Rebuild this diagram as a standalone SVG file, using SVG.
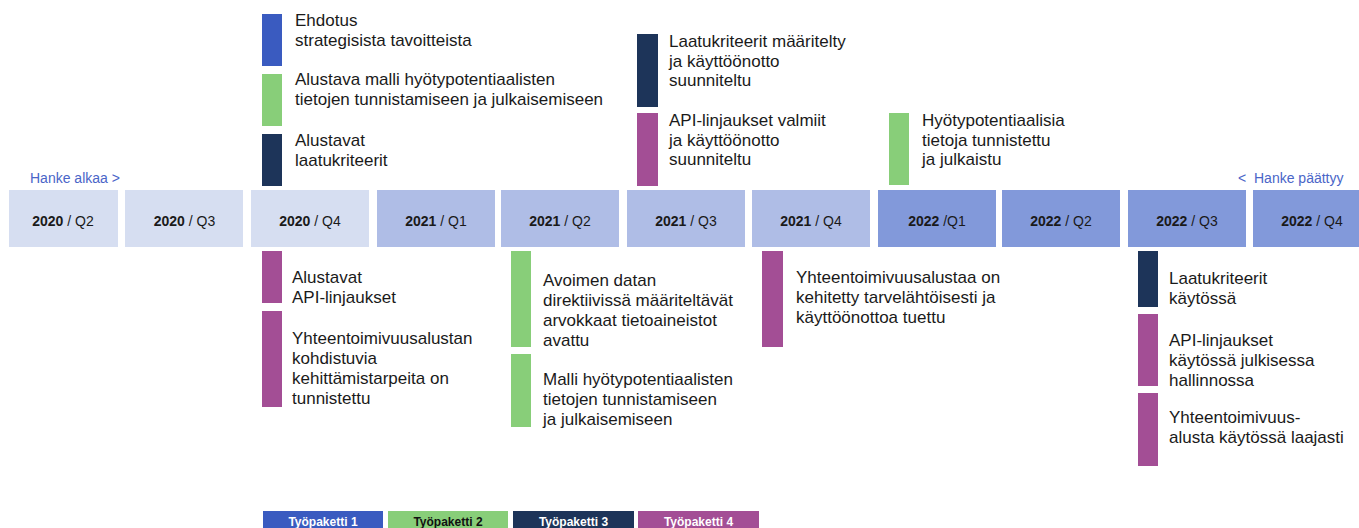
<svg xmlns="http://www.w3.org/2000/svg" width="1359" height="528" viewBox="0 0 1359 528">
<style>
text{font-family:"Liberation Sans",Arial,sans-serif;}
.t{font-size:17px;fill:#1a1a1a;}
.q{font-size:14px;fill:#1a1a1a;text-anchor:middle;}
.q tspan.b{font-weight:bold;}
.y20{fill:#D6DEF1;}
.y21{fill:#AFBDE6;}
.y22{fill:#8299DA;}
.wp1{fill:#3A5BC0;}
.wp2{fill:#88CE79;}
.wp3{fill:#1D3459;}
.wp4{fill:#A34E95;}
.h{font-size:14px;fill:#4A65C8;}
.lg{font-size:12px;font-weight:bold;text-anchor:middle;fill:#ffffff;}
</style>
<rect width="1359" height="528" fill="#ffffff"/>

<g id="timeline">
  <g id="q2020-2"><rect class="y20" x="9" y="190" width="109" height="57"/><text class="q" x="63" y="225.5"><tspan class="b">2020</tspan> / Q2</text></g>
  <g id="q2020-3"><rect class="y20" x="125" y="190" width="118" height="57"/><text class="q" x="184.5" y="225.5"><tspan class="b">2020</tspan> / Q3</text></g>
  <g id="q2020-4"><rect class="y20" x="251" y="190" width="118" height="57"/><text class="q" x="310" y="225.5"><tspan class="b">2020</tspan> / Q4</text></g>
  <g id="q2021-1"><rect class="y21" x="377" y="190" width="118" height="57"/><text class="q" x="436" y="225.5"><tspan class="b">2021</tspan> / Q1</text></g>
  <g id="q2021-2"><rect class="y21" x="501" y="190" width="118" height="57"/><text class="q" x="560" y="225.5"><tspan class="b">2021</tspan> / Q2</text></g>
  <g id="q2021-3"><rect class="y21" x="627" y="190" width="118" height="57"/><text class="q" x="686" y="225.5"><tspan class="b">2021</tspan> / Q3</text></g>
  <g id="q2021-4"><rect class="y21" x="752" y="190" width="118" height="57"/><text class="q" x="811" y="225.5"><tspan class="b">2021</tspan> / Q4</text></g>
  <g id="q2022-1"><rect class="y22" x="878" y="190" width="118" height="57"/><text class="q" x="937" y="225.5"><tspan class="b">2022</tspan> /Q1</text></g>
  <g id="q2022-2"><rect class="y22" x="1002" y="190" width="118" height="57"/><text class="q" x="1061" y="225.5"><tspan class="b">2022</tspan> / Q2</text></g>
  <g id="q2022-3"><rect class="y22" x="1128" y="190" width="118" height="57"/><text class="q" x="1187" y="225.5"><tspan class="b">2022</tspan> / Q3</text></g>
  <g id="q2022-4"><rect class="y22" x="1253" y="190" width="118" height="57"/><text class="q" x="1312" y="225.5"><tspan class="b">2022</tspan> / Q4</text></g>
</g>

<g id="start-label"><text class="h" x="30" y="183">Hanke alkaa &gt;</text></g>
<g id="end-label"><text class="h" x="1238" y="183">&lt;</text><text class="h" x="1254" y="183">Hanke päättyy</text></g>

<g id="m-ehdotus"><rect class="wp1" x="262" y="14" width="20" height="52"/><text class="t" x="295" y="26">Ehdotus</text><text class="t" x="295" y="46">strategisista tavoitteista</text></g>
<g id="m-alustava-malli"><rect class="wp2" x="262" y="74" width="20" height="52"/><text class="t" x="295" y="85">Alustava malli hyötypotentiaalisten</text><text class="t" x="295" y="105">tietojen tunnistamiseen ja julkaisemiseen</text></g>
<g id="m-alustavat-laatu"><rect class="wp3" x="262" y="134" width="20" height="52"/><text class="t" x="295" y="146">Alustavat</text><text class="t" x="295" y="166">laatukriteerit</text></g>

<g id="m-laatu-maaritelty"><rect class="wp3" x="637" y="34" width="21" height="73"/><text class="t" x="669" y="47">Laatukriteerit määritelty</text><text class="t" x="669" y="66.5">ja käyttöönotto</text><text class="t" x="669" y="86">suunniteltu</text></g>
<g id="m-api-valmiit"><rect class="wp4" x="637" y="113" width="21" height="73"/><text class="t" x="669" y="126">API-linjaukset valmiit</text><text class="t" x="669" y="145.5">ja käyttöönotto</text><text class="t" x="669" y="165">suunniteltu</text></g>
<g id="m-hyoty-julkaistu"><rect class="wp2" x="889" y="113" width="20" height="72"/><text class="t" x="922" y="126">Hyötypotentiaalisia</text><text class="t" x="922" y="145.5">tietoja tunnistettu</text><text class="t" x="922" y="165">ja julkaistu</text></g>

<g id="m-alustavat-api"><rect class="wp4" x="262" y="251" width="20" height="52"/><text class="t" x="292" y="283">Alustavat</text><text class="t" x="292" y="302.5">API-linjaukset</text></g>
<g id="m-kehittamistarpeet"><rect class="wp4" x="262" y="311" width="20" height="96"/><text class="t" x="292" y="344">Yhteentoimivuusalustan</text><text class="t" x="292" y="364">kohdistuvia</text><text class="t" x="292" y="384">kehittämistarpeita on</text><text class="t" x="292" y="404">tunnistettu</text></g>

<g id="m-avoin-data"><rect class="wp2" x="511" y="251" width="20" height="96"/><text class="t" x="543" y="286">Avoimen datan</text><text class="t" x="543" y="306">direktiivissä määriteltävät</text><text class="t" x="543" y="326">arvokkaat tietoaineistot</text><text class="t" x="543" y="346">avattu</text></g>
<g id="m-malli"><rect class="wp2" x="511" y="354" width="20" height="73"/><text class="t" x="543" y="385">Malli hyötypotentiaalisten</text><text class="t" x="543" y="405">tietojen tunnistamiseen</text><text class="t" x="543" y="425">ja julkaisemiseen</text></g>

<g id="m-alusta-kehitetty"><rect class="wp4" x="762" y="251" width="21" height="96"/><text class="t" x="796" y="283">Yhteentoimivuusalustaa on</text><text class="t" x="796" y="303">kehitetty tarvelähtöisesti ja</text><text class="t" x="796" y="323">käyttöönottoa tuettu</text></g>

<g id="m-laatu-kaytossa"><rect class="wp3" x="1138" y="251" width="20" height="56"/><text class="t" x="1169" y="284">Laatukriteerit</text><text class="t" x="1169" y="303.5">käytössä</text></g>
<g id="m-api-kaytossa"><rect class="wp4" x="1138" y="314" width="20" height="72"/><text class="t" x="1169" y="346">API-linjaukset</text><text class="t" x="1169" y="366">käytössä julkisessa</text><text class="t" x="1169" y="386">hallinnossa</text></g>
<g id="m-alusta-laajasti"><rect class="wp4" x="1138" y="393" width="20" height="73"/><text class="t" x="1169" y="423">Yhteentoimivuus-</text><text class="t" x="1169" y="443">alusta käytössä laajasti</text></g>

<g id="legend">
  <g id="lg1"><rect class="wp1" x="263" y="511" width="120" height="17"/><text class="lg" x="323" y="526">Työpaketti 1</text></g>
  <g id="lg2"><rect class="wp2" x="388" y="511" width="120" height="17"/><text class="lg" x="448" y="526" style="fill:#111111">Työpaketti 2</text></g>
  <g id="lg3"><rect class="wp3" x="513" y="511" width="121" height="17"/><text class="lg" x="573.5" y="526">Työpaketti 3</text></g>
  <g id="lg4"><rect class="wp4" x="638" y="511" width="121" height="17"/><text class="lg" x="698.5" y="526">Työpaketti 4</text></g>
</g>
</svg>
